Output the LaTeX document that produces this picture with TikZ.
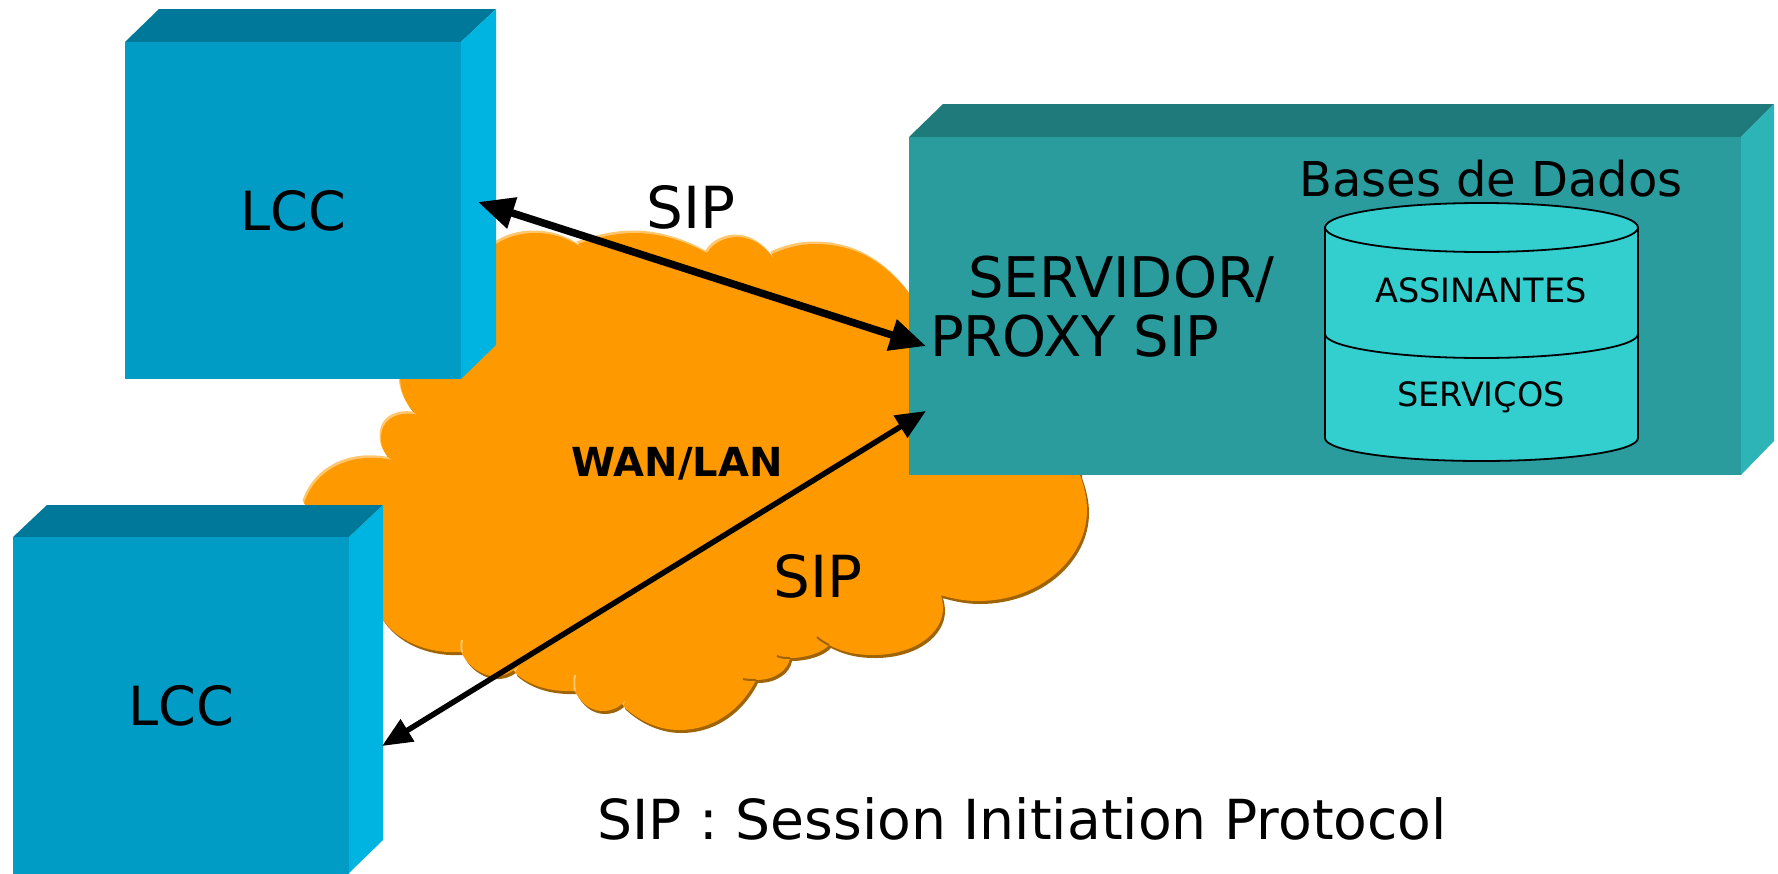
\documentclass[tikz,border=0pt]{standalone}
\usepackage{fontspec}
\setmainfont{DejaVu Sans}
\usetikzlibrary{arrows.meta}
\definecolor{lccfront}{HTML}{009CC6}
\definecolor{lccside}{HTML}{00B4E2}
\definecolor{lcctop}{HTML}{00789A}
\definecolor{srvfront}{HTML}{2A9C9E}
\definecolor{srvside}{HTML}{2CB4B6}
\definecolor{srvtop}{HTML}{1F7A7B}
\definecolor{dbfill}{HTML}{33CFCF}
\definecolor{cloudfill}{HTML}{FF9900}
\definecolor{cloudlight}{HTML}{FFC670}
\definecolor{clouddark}{HTML}{A06408}
\newcommand{\cloudoutline}{
  (400,375) .. controls (400,395) and (408,407) .. (417,415)
  -- (421,416) .. controls (405,410) and (381,415) .. (381,438) .. controls (381,448) and (385,455) .. (392,460)
  .. controls (350,451) and (315,470) .. (304,503) -- (340,560)
  -- (383,620) .. controls (400,643) and (430,654) .. (462,652)
  .. controls (466,666) and (485,678) .. (498,676) .. controls (508,675) and (515,670) .. (519,665)
  -- (515,673) .. controls (530,686) and (550,692) .. (575,691)
  .. controls (580,702) and (590,711) .. (603,711) .. controls (615,711) and (625,704) .. (628,695)
  -- (623,706) .. controls (640,722) and (660,730) .. (679,730) .. controls (715,730) and (742,708) .. (756,680)
  .. controls (775,680) and (788,670) .. (790,658)
  .. controls (805,658) and (822,653) .. (829,645)
  .. controls (845,653) and (858,655) .. (873,655) .. controls (915,655) and (943,633) .. (943,608) .. controls (943,601) and (941,594) .. (938,588)
  -- (940,595) .. controls (955,599) and (965,601) .. (978,601) .. controls (1040,601) and (1087,558) .. (1087,510) .. controls (1087,498) and (1084,486) .. (1080,475)
  -- (1080,400) -- (909,300)
  -- (909,293) .. controls (885,262) and (855,244) .. (815,244) .. controls (800,244) and (785,248) .. (772,254)
  -- (774,259) .. controls (765,246) and (752,237) .. (737,237) .. controls (725,237) and (713,243) .. (707,253)
  .. controls (685,241) and (660,233) .. (635,233) .. controls (615,233) and (595,238) .. (578,244)
  -- (586,251) .. controls (570,238) and (552,233) .. (535,233) .. controls (520,233) and (507,237) .. (496,244)
  -- (470,300) -- (450,370) -- cycle}
\tikzset{
  lccbox/.style={fill=lccfront,draw=none,minimum width=336pt,minimum height=337pt,inner sep=0pt,anchor=north west,font=\fontsize{54}{60}\selectfont},
  srvbox/.style={fill=srvfront,draw=none,minimum width=832pt,minimum height=338pt,inner sep=0pt,anchor=north west},
  big/.style={font=\fontsize{56}{60}\selectfont,inner sep=0pt,anchor=base west},
  siptext/.style={font=\fontsize{58}{60}\selectfont,inner sep=0pt,anchor=base west},
  dbtext/.style={font=\fontsize{33.5}{36}\selectfont,inner sep=0pt,anchor=base},
  dblink/.style={black},
  dbcyl/.style={fill=dbfill,draw=black,line width=1.8pt},
}
\begin{document}
\begin{tikzpicture}[x=1pt,y=-1pt]
\useasboundingbox (0,0) rectangle (1778,873);
% cloud
\fill[clouddark] [shift={(2pt,-3pt)}] \cloudoutline;
\fill[cloudlight] [shift={(-1.5pt,2.5pt)}] \cloudoutline;
\fill[cloudfill] \cloudoutline;
\draw[cloudlight,line width=2pt] (462,652) .. controls (461,648) and (461,644) .. (462,640);
\draw[cloudlight,line width=2pt] (575,691) .. controls (574,686) and (574,680) .. (575,675);
\draw[clouddark,line width=2pt] (756,680) .. controls (752,680) and (747,680) .. (743,679);
\draw[clouddark,line width=2pt] (790,658) .. controls (786,658) and (781,658) .. (777,656);
\draw[clouddark,line width=2pt] (829,645) .. controls (825,643) and (820,640) .. (817,637);
% upper LCC
\fill[lcctop] (125,42) -- (159,9) -- (496,9) -- (461,42) -- cycle;
\fill[lccside] (461,42) -- (496,9) -- (496,345) -- (461,379) -- cycle;
\node[lccbox] (lcca) at (125,42) {LCC};
% lower LCC
\fill[lcctop] (13,537) -- (47,505) -- (383,505) -- (349,537) -- cycle;
\fill[lccside] (349,537) -- (383,505) -- (383,840) -- (349,873) -- cycle;
\node[lccbox] (lccb) at (13,537) {LCC};
% server
\fill[srvtop] (909,137) -- (943,104) -- (1774,104) -- (1741,137) -- cycle;
\fill[srvside] (1741,137) -- (1774,104) -- (1774,441) -- (1741,475) -- cycle;
\node[srvbox] (srv) at (909,137) {};
% database
\draw[dbcyl] (1325,332) -- (1325,438) .. controls (1325,451) and (1395,461) .. (1481.5,461) .. controls (1568,461) and (1638,451) .. (1638,438) -- (1638,332) -- cycle;
\draw[dbcyl] (1325,227) -- (1325,334) .. controls (1325,347) and (1395,358) .. (1481.5,358) .. controls (1568,358) and (1638,347) .. (1638,334) -- (1638,227) -- cycle;
\draw[dbcyl] (1481.5,227.5) ellipse [x radius=156.5pt,y radius=24.5pt];
% labels
\node[big] (srvtxta) at (968,297) {SERVIDOR/};
\node[big] (srvtxtb) at (930,356) {PROXY SIP};
\node[font=\fontsize{48}{50}\selectfont,inner sep=0pt,anchor=base west] (bases) at (1299,196) {Bases de Dados};
\node[dbtext] (assin) at (1481,302) {ASSINANTES};
\node[dbtext] (serv) at (1481,406) {SERVIÇOS};
\node[siptext] (sipa) at (646,228) {SIP};
\node[siptext] (sipb) at (773,597) {SIP};
\node[font=\bfseries\fontsize{40}{42}\selectfont,inner sep=0pt,anchor=base west] (wan) at (571,476) {WAN/LAN};
\node[font=\fontsize{55.2}{60}\selectfont,inner sep=0pt,anchor=base west] (legend) at (597,839) {SIP : Session Initiation Protocol};
% connectors
\coordinate (pa) at (478,202);
\coordinate (pb) at (926,346);
\coordinate (pc) at (926,411);
\coordinate (pd) at (382,746);
\draw[dblink,{Triangle[length=36pt,width=31pt]}-{Triangle[length=36pt,width=31pt]},line width=7.5pt] (pa) -- (pb);
\draw[dblink,{Triangle[length=30pt,width=25pt]}-{Triangle[length=30pt,width=25pt]},line width=5.5pt] (pc) -- (pd);
\end{tikzpicture}
\end{document}
